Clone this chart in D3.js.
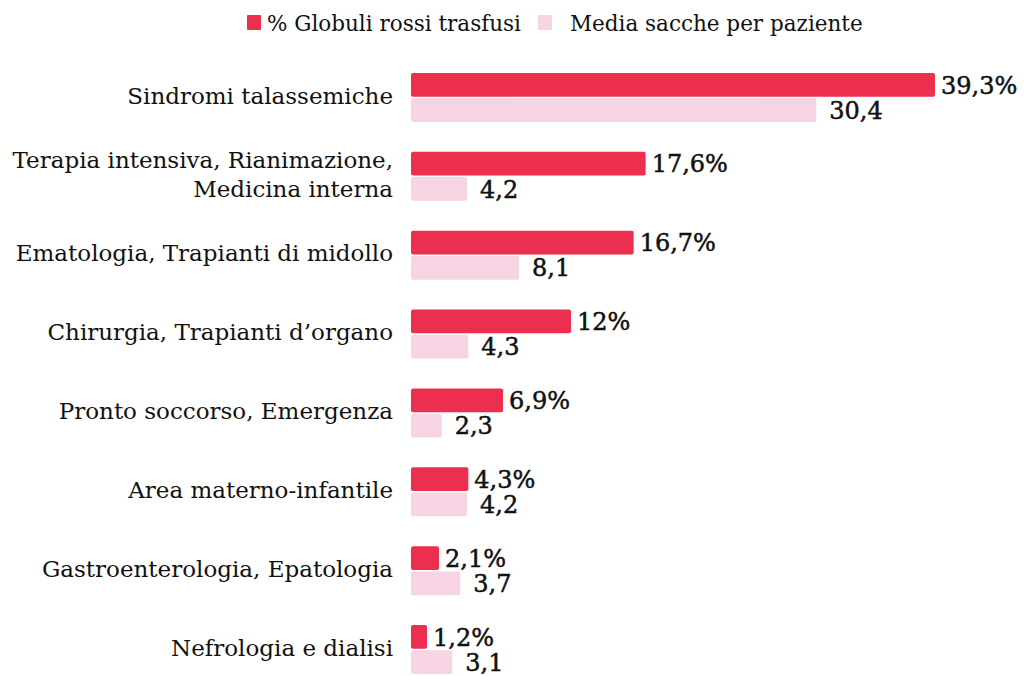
<!DOCTYPE html>
<html>
<head>
<meta charset="utf-8">
<script src="https://cdn.jsdelivr.net/npm/d3@7"></script>
<style>
  html, body { margin: 0; padding: 0; background: #fff; }
  svg { display: block; }
</style>
</head>
<body>
<div id="chart"></div>
<script>
// ---- Data -----------------------------------------------------------
const categories = [
  'Sindromi talassemiche',
  'Terapia intensiva, Rianimazione,\nMedicina interna',
  'Ematologia, Trapianti di midollo',
  'Chirurgia, Trapianti d\u2019organo',
  'Pronto soccorso, Emergenza',
  'Area materno-infantile',
  'Gastroenterologia, Epatologia',
  'Nefrologia e dialisi'
];
const pctGlobuli = [39.3, 17.6, 16.7, 12, 6.9, 4.3, 2.1, 1.2];
const mediaSacche = [30.4, 4.2, 8.1, 4.3, 2.3, 4.2, 3.7, 3.1];
const seriesNames = ['% Globuli rossi trasfusi', 'Media sacche per paziente'];
const seriesKeys = ['pct', 'media'];

const colors = { pct: '#ec2f4e', media: '#f7d4e3' };
const serif = '"DejaVu Serif", serif';

const rows = categories.map((c, i) => ({ cat: c, pct: pctGlobuli[i], media: mediaSacche[i] }));

// ---- Dimensions -----------------------------------------------------
const width = 1026, height = 676;
const x0 = 411;
const labelX = 393;

const svg = d3.select('#chart').append('svg')
  .attr('width', width).attr('height', height);

// ---- Scales ---------------------------------------------------------
const xScale = d3.scaleLinear()
  .domain([0, 39.3])
  .range([x0, 935]);

const yScale = d3.scaleBand()
  .domain(categories)
  .range([73, 674])
  .paddingInner(0.38)
  .paddingOuter(0);

const ySub = d3.scaleBand()
  .domain(seriesKeys)
  .range([0, yScale.bandwidth()])
  .paddingInner(0.06);

const fmt = d3.formatLocale({ decimal: ',', thousands: '.', grouping: [3], currency: ['', '€'] }).format('~r');

// ---- Bars -----------------------------------------------------------
const groups = svg.append('g').selectAll('g')
  .data(rows)
  .join('g')
  .attr('transform', d => `translate(0,${yScale(d.cat)})`);

seriesKeys.forEach(k => {
  groups.append('rect')
    .attr('x', x0)
    .attr('y', ySub(k))
    .attr('width', d => xScale(d[k]) - x0)
    .attr('height', ySub.bandwidth())
    .attr('rx', 2)
    .attr('fill', colors[k]);

  groups.append('text')
    .attr('font-family', serif)
    .attr('font-size', 24)
    .attr('fill', '#111')
    .attr('stroke', '#111')
    .attr('stroke-width', 0.5)
    .attr('x', d => xScale(d[k]) + (k === 'pct' ? 6 : 13))
    .attr('y', ySub(k) + ySub.bandwidth() / 2)
    .attr('dy', '0.36em')
    .text(d => fmt(d[k]) + (k === 'pct' ? '%' : ''));
});

// ---- Category labels ------------------------------------------------
groups.append('text')
  .attr('font-family', serif)
  .attr('font-size', 23)
  .attr('fill', '#111')
  .attr('text-anchor', 'end')
  .each(function (d) {
    const lines = d.cat.split('\n');
    const t = d3.select(this);
    const lh = 29;
    lines.forEach((line, i) => {
      t.append('tspan')
        .attr('x', labelX)
        .attr('y', yScale.bandwidth() / 2 - 2 + (i - (lines.length - 1) / 2) * lh)
        .attr('dy', '0.36em')
        .text(line);
    });
  });

// ---- Legend ---------------------------------------------------------
const legend = svg.append('g').attr('transform', 'translate(247,15)');
const legX = [0, 291];
seriesKeys.forEach((k, i) => {
  const g = legend.append('g').attr('transform', `translate(${legX[i]},0)`);
  g.append('rect').attr('width', 14).attr('height', 15).attr('rx', 1).attr('fill', colors[k]);
  g.append('text')
    .attr('font-family', serif)
    .attr('font-size', 21.5)
    .attr('fill', '#111')
    .attr('x', i === 0 ? 20 : 32)
    .attr('y', 8)
    .attr('dy', '0.36em')
    .text(seriesNames[i]);
});
</script>
</body>
</html>
